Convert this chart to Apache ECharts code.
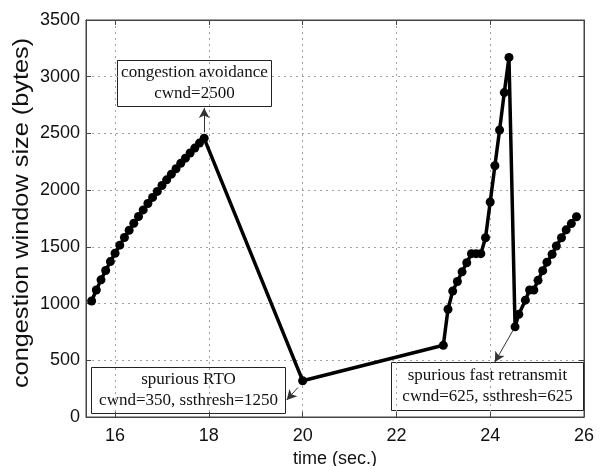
<!DOCTYPE html>
<html>
<head>
<meta charset="utf-8">
<script src="https://cdn.jsdelivr.net/npm/echarts@6/dist/echarts.min.js"></script>
<style>html,body{margin:0;padding:0;background:#fff}#c{width:606px;height:466px}</style>
</head>
<body>
<div id="c"></div>
<script>
// ---- data ----
var times = [
  15.5, 15.6, 15.7, 15.8, 15.9, 16.0, 16.1, 16.2, 16.3, 16.4, 16.5, 16.6, 16.7,
  16.8, 16.9, 17.0, 17.1, 17.2, 17.3, 17.4, 17.5, 17.6, 17.7, 17.8, 17.9,
  20.0,
  23.0, 23.1, 23.2, 23.3, 23.4, 23.5, 23.6, 23.7, 23.8, 23.9, 24.0, 24.1, 24.2, 24.3, 24.4,
  24.53, 24.61, 24.75, 24.84, 24.93, 25.02, 25.12, 25.21, 25.32, 25.41, 25.52, 25.62, 25.73, 25.84
];
var cwnd = [
  1023, 1120, 1209, 1292, 1370, 1444, 1515, 1582, 1646, 1708, 1768, 1826, 1882,
  1936, 1989, 2041, 2091, 2141, 2189, 2236, 2282, 2327, 2371, 2415, 2457,
  320,
  632, 950, 1110, 1195, 1280, 1360, 1440, 1440, 1440, 1580, 1895, 2215, 2530, 2860, 3170,
  795, 905, 1030, 1120, 1120, 1205, 1290, 1365, 1435, 1508, 1580, 1650, 1705, 1765
];
var xTicks = [16, 18, 20, 22, 24, 26];
var yMin = 0, yMax = 3500, yStep = 500;
var xMin = 15.38, xMax = 26;
var xTitle = 'time (sec.)';
var yTitle = 'congestion window size (bytes)';

var annotations = [
  { lines: ['congestion avoidance', 'cwnd=2500'], from: [17.9, 2510], to: [17.9, 2725] },
  { lines: ['spurious RTO', 'cwnd=350, ssthresh=1250'], from: [19.9, 260], to: [19.66, 150] },
  { lines: ['spurious fast retransmit', 'cwnd=625, ssthresh=625'], from: [24.49, 767], to: [24.1, 485] }
];

var seriesData = times.map(function (t, i) { return [t, cwnd[i]]; });

var chart = echarts.init(document.getElementById('c'), null, { renderer: 'canvas' });
var sans = 'Liberation Sans';
var serif = 'Liberation Serif';
var gridLine = { show: true, lineStyle: { color: '#a0a0a0', type: [2, 4], width: 1 } };

var boxes = [
  { x: 117, y: 60, w: 154, h: 46 },
  { x: 91, y: 367, w: 194, h: 46 },
  { x: 391, y: 362, w: 192, h: 48 }
];

var graphics = boxes.map(function (b, i) {
  return {
    type: 'group', left: b.x, top: b.y, z: 10,
    children: [
      { type: 'rect', shape: { x: 0, y: 0, width: b.w, height: b.h },
        style: { fill: '#fff', stroke: '#222', lineWidth: 1 } },
      { type: 'text', x: b.w / 2, y: b.h / 2,
        style: { text: annotations[i].lines.join('\n'), fontFamily: serif, fontSize: 17,
                 lineHeight: 21, fill: '#111', align: 'center', verticalAlign: 'middle' } }
    ]
  };
});
graphics.push({
  type: 'text', x: 22, y: 213, rotation: Math.PI / 2, scaleX: 1.15, z: 10,
  style: { text: yTitle, fontFamily: sans, fontSize: 22, fill: '#111', align: 'center', verticalAlign: 'middle' }
});

chart.setOption({
  animation: false,
  backgroundColor: '#fff',
  grid: { left: 86, right: 22, top: 20, bottom: 49, outerBoundsMode: 'none', containLabel: false,
          show: true, borderColor: '#444', borderWidth: 1, backgroundColor: 'transparent' },
  xAxis: [{
    type: 'value', min: xMin, max: xMax,
    name: xTitle, nameLocation: 'middle', nameGap: 24,
    nameTextStyle: { fontFamily: sans, fontSize: 18, color: '#111' },
    axisLine: { show: true, onZero: false, lineStyle: { color: '#444' } },
    axisTick: { show: true, inside: true, length: 5, customValues: xTicks, lineStyle: { color: '#444' } },
    axisLabel: { customValues: xTicks, fontFamily: sans, fontSize: 18, color: '#111', margin: 10,
                 formatter: function (v) { return String(v); } },
    splitLine: gridLine
  }, {
    type: 'value', min: xMin, max: xMax, position: 'top',
    axisLine: { show: true, onZero: false, lineStyle: { color: '#444' } },
    axisTick: { show: true, inside: true, length: 5, customValues: xTicks, lineStyle: { color: '#444' } },
    axisLabel: { show: false }, splitLine: { show: false }
  }],
  yAxis: [{
    type: 'value', min: yMin, max: yMax, interval: yStep,
    axisLine: { show: true, onZero: false, lineStyle: { color: '#444' } },
    axisTick: { show: true, inside: true, length: 5, lineStyle: { color: '#444' } },
    axisLabel: { fontFamily: sans, fontSize: 18, color: '#111', margin: 6,
                 formatter: function (v) { return String(v); } },
    splitLine: gridLine
  }, {
    type: 'value', min: yMin, max: yMax, interval: yStep, position: 'right',
    axisLine: { show: true, onZero: false, lineStyle: { color: '#444' } },
    axisTick: { show: true, inside: true, length: 5, lineStyle: { color: '#444' } },
    axisLabel: { show: false }, splitLine: { show: false }
  }],
  series: [{
    type: 'line',
    data: seriesData,
    symbol: 'circle', symbolSize: 9,
    lineStyle: { color: '#000', width: 3.5 },
    itemStyle: { color: '#000' },
    z: 3,
    markLine: {
      silent: true,
      symbol: ['none', 'arrow'], symbolSize: [8, 10],
      label: { show: false },
      lineStyle: { color: '#333', width: 1, type: 'solid' },
      data: annotations.map(function (a) {
        return [{ coord: a.from }, { coord: a.to }];
      })
    }
  }],
  graphic: graphics
});
</script>
</body>
</html>
